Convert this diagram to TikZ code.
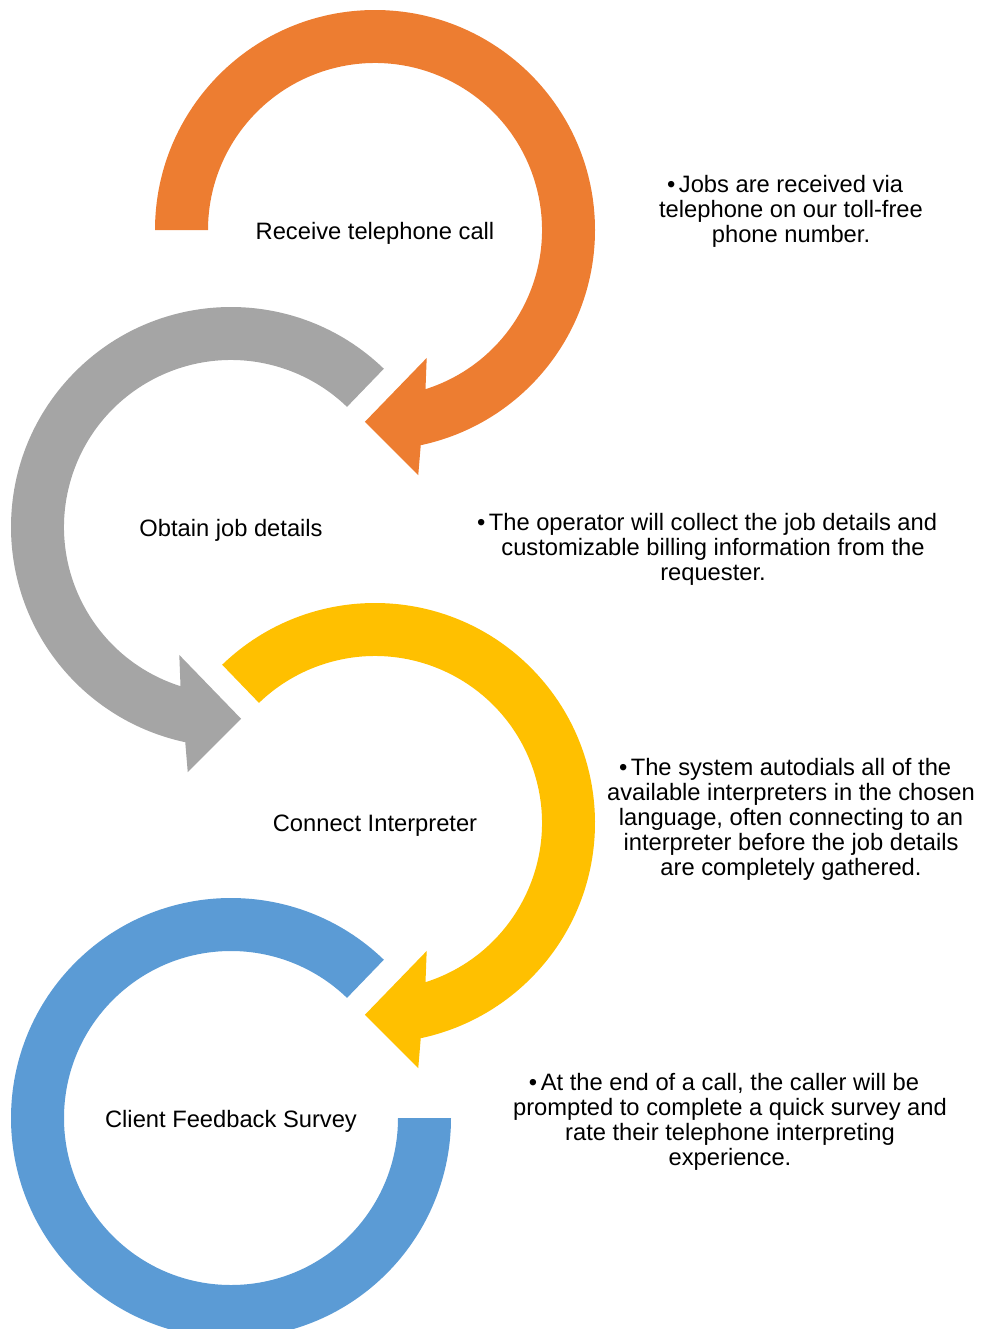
\documentclass[tikz,border=0pt]{standalone}
\usepackage{fontspec}
\setmainfont{Liberation Sans}
\usepackage{tikz}
\definecolor{accorange}{HTML}{ED7D31}
\definecolor{accgray}{HTML}{A5A5A5}
\definecolor{accyellow}{HTML}{FFC000}
\definecolor{accblue}{HTML}{5B9BD5}
\tikzstyle{steplabel}=[inner sep=0pt,yshift=-0.06cm,font=\fontsize{13.5}{14.2}\selectfont]
\tikzstyle{desc}=[align=center,inner sep=0pt,font=\fontsize{13.5}{14.2}\selectfont]
\newcommand{\bul}{\llap{\textbullet\hspace{2pt}}}

\begin{document}
\begin{tikzpicture}[x=0.02cm,y=0.02cm]
            \useasboundingbox (0,0) rectangle (982,-1329);

            % Receive PART

            \coordinate (c1) at (375,-230);
            \node[steplabel] (l1) at (c1) {Receive telephone call};
            \fill[accorange,shift={(c1)}] (180:220) arc[start angle=180,end angle=-78,radius=220]
                -- (-80:249) -- (-93:192) -- (-68:138) -- (-72.4:167)
                arc[start angle=-72.4,end angle=180,radius=167] -- cycle;
            \node[desc] (d1) at (791,-211) {\bul Jobs are received via\\telephone on our toll-free\\phone number.};

            % Obtain PART

            \coordinate (c2) at (231,-527);
            \node[steplabel] (l2) at (c2) {Obtain job details};
            \fill[accgray,shift={(c2)}] (46:220) arc[start angle=46,end angle=258,radius=220]
                -- (260:249) -- (273:192) -- (248:138) -- (252.4:167)
                arc[start angle=252.4,end angle=46,radius=167] -- cycle;
            \node[desc] (d2) at (713,-549) {\bul The operator will collect the job details and\\customizable billing information from the\\requester.};

            % Connect PART

            \coordinate (c3) at (375,-823);
            \node[steplabel] (l3) at (c3) {Connect Interpreter};
            \fill[accyellow,shift={(c3)}] (134:220) arc[start angle=134,end angle=-78,radius=220]
                -- (-80:249) -- (-93:192) -- (-68:138) -- (-72.4:167)
                arc[start angle=-72.4,end angle=134,radius=167] -- cycle;
            \node[desc] (d3) at (791,-819) {\bul The system autodials all of the\\available interpreters in the chosen\\language, often connecting to an\\interpreter before the job details\\are completely gathered.};

            % Survey PART

            \coordinate (c4) at (231,-1118);
            \node[steplabel] (l4) at (c4) {Client Feedback Survey};
            \fill[accblue,shift={(c4)}] (46:220) arc[start angle=46,end angle=360,radius=220]
                -- (360:167) arc[start angle=360,end angle=46,radius=167] -- cycle;
            \node[desc] (d4) at (730,-1122) {\bul At the end of a call, the caller will be\\prompted to complete a quick survey and\\rate their telephone interpreting\\experience.};

        \end{tikzpicture}
\end{document}
